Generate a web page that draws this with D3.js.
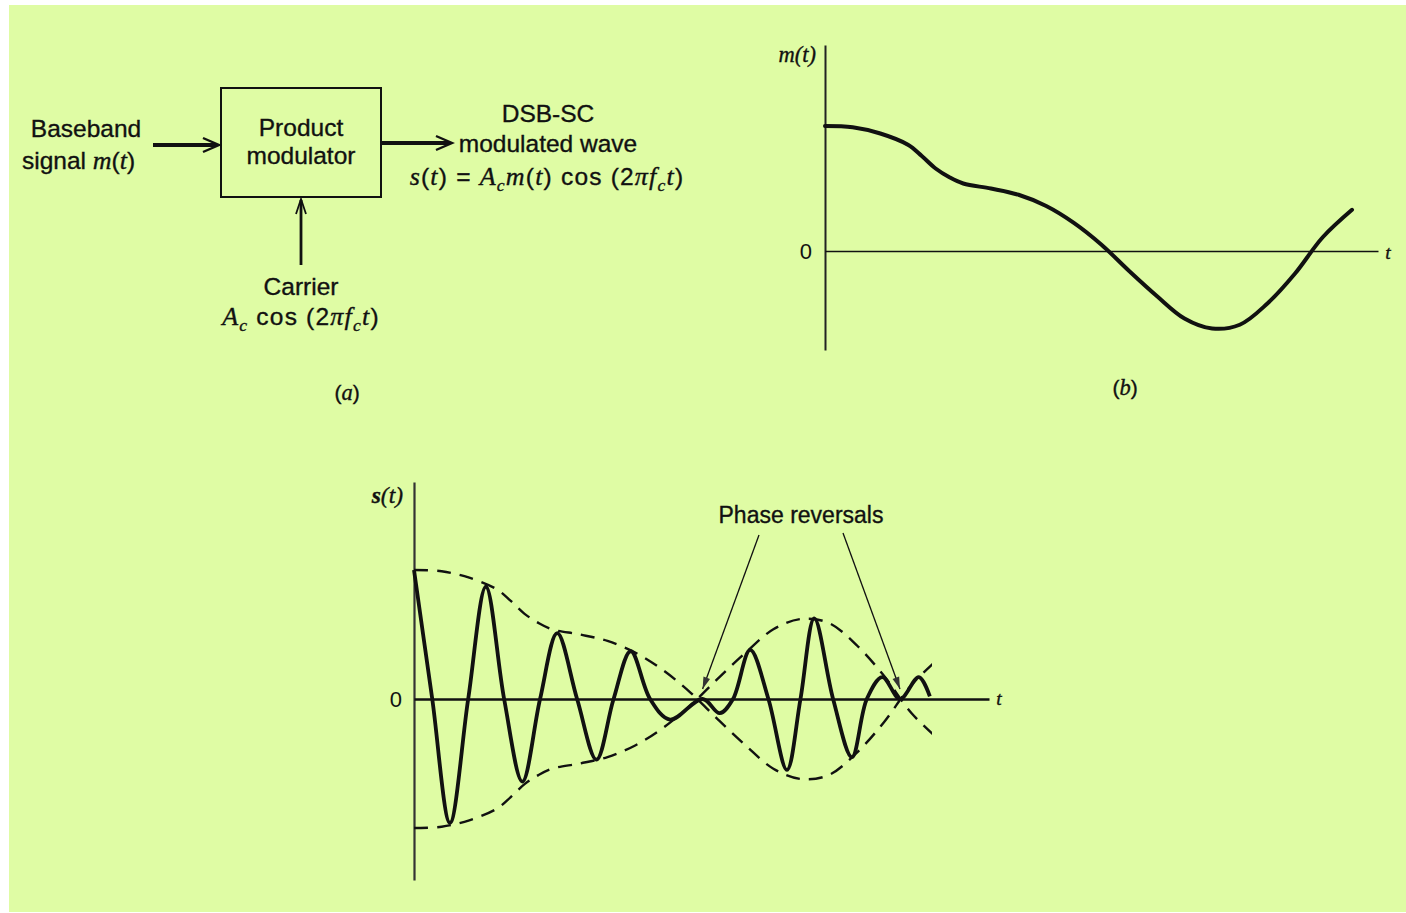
<!DOCTYPE html>
<html><head><meta charset="utf-8">
<script src="https://cdn.jsdelivr.net/npm/d3@7"></script>
<style>body{margin:0;background:#fff}svg{display:block}</style>
</head><body><svg id="c" width="1406" height="913"></svg>
<script>
// ---- data ----
// baseband signal m(t) (panel b), t in arbitrary units
const tM    = [0, 0.5, 1, 1.5, 1.75, 2, 2.25, 2.5, 3, 3.5, 4, 4.5, 5, 5.5, 6, 6.5, 7, 7.5, 8, 8.5, 9, 9.53];
const mVals = [1.0, 0.99, 0.94, 0.85, 0.76, 0.66, 0.59, 0.54, 0.50, 0.45, 0.36, 0.225, 0.05, -0.16, -0.36, -0.54, -0.62, -0.59, -0.42, -0.18, 0.11, 0.33];
// DSB-SC wave s(t) (panel c): extrema and zero crossings
const sT    = [0, 0.33, 0.65, 0.98, 1.30, 1.63, 1.96, 2.28, 2.59, 2.95, 3.30, 3.61, 3.92, 4.27, 4.63, 5.22, 5.53, 5.77, 6.08, 6.41, 6.745, 6.99, 7.24, 7.58, 7.92, 8.19, 8.47, 8.79, 9.13, 9.33];
const sVals = [1.0, 0, -0.96, 0, 0.87, 0, -0.64, 0, 0.51, 0, -0.47, 0, 0.37, 0, -0.16, 0, -0.11, 0, 0.38, 0, -0.55, 0, 0.625, 0, -0.45, 0, 0.17, 0, 0.17, 0.02];
const envelopeEnd = 9.37;
const yTicksB = [0];
const yTicksC = [0];
const panelLabels = ["(a)", "(b)"];

// ---- setup ----
const sans = "'Liberation Sans', Arial, sans-serif";
const serif = "'Liberation Serif', 'Times New Roman', serif";
const svg = d3.select("#c");
svg.append("rect").attr("x",0).attr("y",0).attr("width",1406).attr("height",913).attr("fill","#fff");
svg.append("rect").attr("x",9).attr("y",5).attr("width",1397).attr("height",907).attr("fill","#dffca4");

function rich(x, y, parts, anchor, size, ls) {
  size = size || 24.5;
  const t = svg.append("text").attr("x", x).attr("y", y)
    .attr("text-anchor", anchor || "start")
    .attr("font-family", sans).attr("font-size", size).attr("fill", "#111")
    .attr("stroke", "#111").attr("stroke-width", 0.35);
  if (ls) t.attr("letter-spacing", ls);
  let shift = 0;
  parts.forEach(p => {
    const s = t.append("tspan").text(p[0]);
    const kind = p[1] || "";
    let want = 0;
    if (kind.includes("i")) s.attr("font-family", serif).attr("font-style", "italic").attr("font-size", size + 1.5);
    if (kind.includes("b")) s.attr("font-weight", "bold");
    if (kind.includes("s")) { want = 6; s.attr("font-size", size * 0.72); }
    if (want !== shift) { s.attr("dy", want - shift); shift = want; }
  });
  return t;
}
function chevron(tx, ty, ang, len, half, w) {
  const p = d3.path();
  const ca = Math.cos(ang), sa = Math.sin(ang);
  const bx = tx - len * ca, by = ty - len * sa;
  p.moveTo(bx - half * sa, by + half * ca);
  p.lineTo(tx, ty);
  p.lineTo(bx + half * sa, by - half * ca);
  svg.append("path").attr("d", p.toString()).attr("fill", "none").attr("stroke", "#111").attr("stroke-width", w);
}
function arrowLine(x1, y1, x2, y2, w) {
  svg.append("line").attr("x1",x1).attr("y1",y1).attr("x2",x2).attr("y2",y2).attr("stroke","#111").attr("stroke-width",w);
}

// ---- panel (a): block diagram ----
svg.append("rect").attr("x",221).attr("y",88).attr("width",160).attr("height",109)
  .attr("fill","none").attr("stroke","#111").attr("stroke-width",2);
rich(301, 136, [["Product"]], "middle");
rich(301, 164, [["modulator"]], "middle");
rich(86, 137, [["Baseband"]], "middle");
rich(22, 169, [["signal "], ["m", "i"], ["("], ["t", "i"], [")"]], "start");
arrowLine(153, 145, 217, 145, 4);
chevron(219, 145, 0, 16, 7, 2.4);
arrowLine(381, 143, 450, 143, 4);
chevron(452, 143, 0, 16, 7, 2.4);
arrowLine(301, 265, 301, 200, 2.8);
chevron(301, 199, -Math.PI/2, 15, 5, 1.8);
rich(548, 122, [["DSB-SC"]], "middle");
rich(548, 152, [["modulated wave"]], "middle");
rich(547, 185, [["s", "i"], ["("], ["t", "i"], [") = "], ["A", "i"], ["c", "is"], ["m", "i"], ["("], ["t", "i"], [") cos (2"], ["π", "i"], ["f", "i"], ["c", "is"], ["t", "i"], [")"]], "middle", 24.5, 1.2);
rich(301, 295, [["Carrier"]], "middle");
rich(301, 325, [["A", "i"], ["c", "is"], [" cos (2"], ["π", "i"], ["f", "i"], ["c", "is"], ["t", "i"], [")"]], "middle", 24.5, 1.2);
rich(347, 400, [["(", ""], [panelLabels[0].slice(1,2), "i"], [")"]], "middle", 21);

// ---- panel (b): m(t) ----
const xB = d3.scaleLinear().domain([0, 10]).range([825, 1378]);
const yB = d3.scaleLinear().domain([-0.792, 1.648]).range([350, 45]);
const axB = svg.append("g").attr("transform", `translate(${xB(0)},0)`)
  .call(d3.axisLeft(yB).tickValues(yTicksB).tickSize(0).tickSizeOuter(0).tickPadding(13).tickFormat(d3.format("d")));
const axBx = svg.append("g").attr("transform", `translate(0,${yB(0)})`)
  .call(d3.axisBottom(xB).tickValues([]).tickSizeOuter(0));
axB.select(".domain").attr("stroke", "#222").attr("stroke-width", 2);
axBx.select(".domain").attr("stroke", "#111").attr("stroke-width", 1.6);
axB.selectAll("text").attr("font-family", sans).attr("font-size", 22).attr("fill", "#111").attr("dy", "0.36em");
const mData = tM.map((t, i) => ({ t, v: mVals[i] }));
svg.append("path").datum(mData)
  .attr("d", d3.line().x(d => xB(d.t)).y(d => yB(d.v)).curve(d3.curveCatmullRom.alpha(0.5)))
  .attr("fill", "none").attr("stroke", "#111").attr("stroke-width", 4).attr("stroke-linecap", "round");
rich(816, 62, [["m", "i"], ["(", "i"], ["t", "i"], [")", "i"]], "end", 21);
rich(1388, 259, [["t", "i"]], "middle", 18);
rich(1125, 395, [["(", ""], [panelLabels[1].slice(1,2), "i"], [")"]], "middle", 21);

// ---- panel (c): s(t) ----
const xC = d3.scaleLinear().domain([0, 10.4]).range([414, 989]);
const yC = d3.scaleLinear().domain([-1.403, 1.682]).range([880, 482]);
const axC = svg.append("g").attr("transform", `translate(${xC(0)},0)`)
  .call(d3.axisLeft(yC).tickValues(yTicksC).tickSize(0).tickSizeOuter(0).tickPadding(12).tickFormat(d3.format("d")));
axC.select(".domain").attr("stroke", "#333").attr("stroke-width", 2.2);
axC.selectAll("text").attr("font-family", sans).attr("font-size", 22).attr("fill", "#111").attr("dy", "0.36em");
svg.append("defs").append("clipPath").attr("id", "envClip")
  .append("rect").attr("x", xC(0)).attr("y", 470).attr("width", xC(envelopeEnd) - xC(0)).attr("height", 420);
const envLine = sign => d3.line().x(d => xC(d.t)).y(d => yC(sign * d.v)).curve(d3.curveCatmullRom.alpha(0.5));
[1, -1].forEach(sg => {
  svg.append("path").datum(mData).attr("clip-path", "url(#envClip)")
    .attr("d", envLine(sg)).attr("fill", "none").attr("stroke", "#111")
    .attr("stroke-width", 2.4).attr("stroke-dasharray", "14,9");
});
const axCx = svg.append("g").attr("transform", `translate(0,${yC(0)})`)
  .call(d3.axisBottom(xC).tickValues([]).tickSizeOuter(0));
axCx.select(".domain").attr("stroke", "#111").attr("stroke-width", 2.6);
const sData = sT.map((t, i) => ({ t, v: sVals[i] }));
svg.append("path").datum(sData)
  .attr("d", d3.line().x(d => xC(d.t)).y(d => yC(d.v)).curve(d3.curveCatmullRom.alpha(0.5)))
  .attr("fill", "none").attr("stroke", "#111").attr("stroke-width", 3.8).attr("stroke-linejoin", "round");
rich(403, 503, [["s", "ib"], ["(", "i"], ["t", "i"], [")", "i"]], "end", 22);
rich(999, 705, [["t", "i"]], "middle", 18);
rich(801, 523, [["Phase reversals"]], "middle", 23);
// annotation arrows pointing at the phase reversals (zero crossings of m)
const rev = [[759, 535, 5.22], [843, 533, 8.79]];
rev.forEach(r => {
  const tx = xC(r[2]), ty = yC(0) - 10;
  arrowLine(r[0], r[1], tx, ty, 1.3);
  const ang = Math.atan2(ty - r[1], tx - r[0]);
  const len = 12, half = 3.5;
  const ca = Math.cos(ang), sa = Math.sin(ang);
  const bx = tx - len * ca, by = ty - len * sa;
  svg.append("path").attr("d", `M${tx},${ty}L${bx - half*sa},${by + half*ca}L${bx + half*sa},${by - half*ca}Z`)
    .attr("fill", "#333").attr("stroke", "none");
});
</script></body></html>
